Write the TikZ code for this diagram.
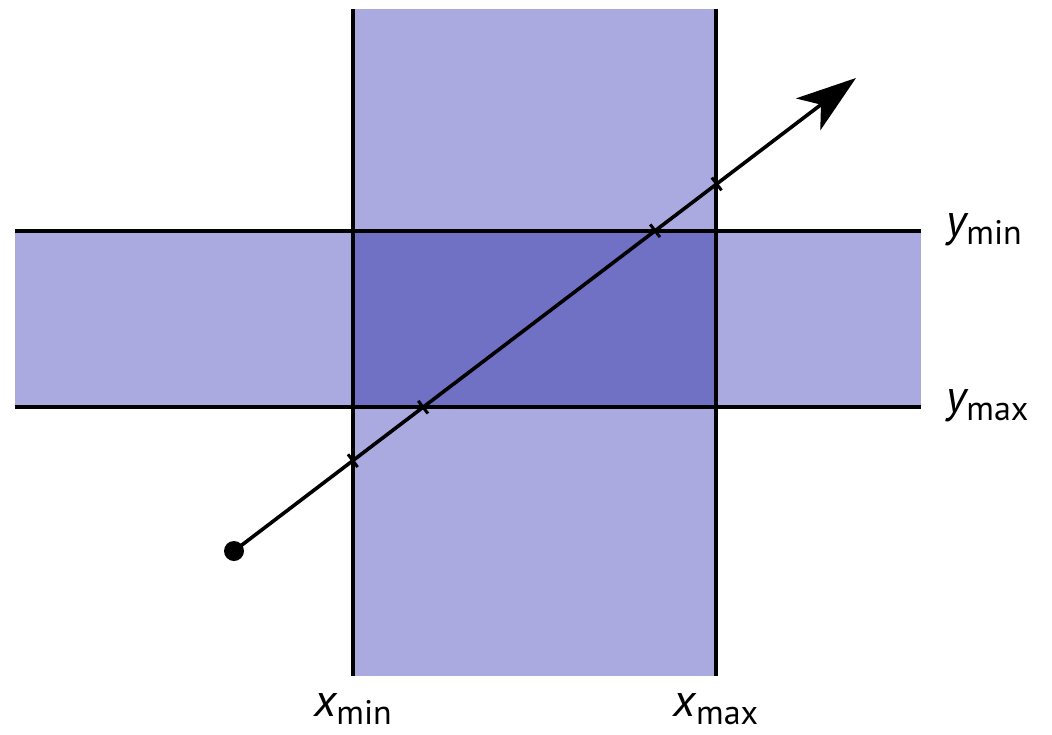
\documentclass[tikz,border=0pt]{standalone}
\usepackage{fontspec}
\setsansfont{PT Sans}
\usetikzlibrary{arrows.meta,calc}
\definecolor{bandlight}{RGB}{170,170,224}
\definecolor{banddark}{RGB}{112,112,196}
\newcommand{\bound}[2]{{\fontsize{46}{46}\selectfont\itshape #1}\raisebox{-8pt}{#2}}

\begin{document}
\begin{tikzpicture}[
  x=1pt,y=-1pt,
  edge/.style={line width=3.4pt},
  ray/.style={line width=3.6pt,-{Stealth[length=60pt,width=40pt,inset=16pt]}},
  tick/.style={line width=3pt},
  lbl/.style={font=\fontsize{34}{34}\selectfont\sffamily,inner sep=0pt}
]
\useasboundingbox (0,0) rectangle (1052,734);
% bands
\fill[bandlight] (353,9) rectangle (716,676);
\fill[bandlight] (15,231) rectangle (921,407);
\fill[banddark] (353,231) rectangle (716,407);
\draw[edge] (353,9) -- (353,676);
\draw[edge] (716,9) -- (716,676);
\draw[edge] (15,231) -- (921,231);
\draw[edge] (15,407) -- (921,407);
% labels
\node[lbl,anchor=base west] (ymin) at (946,236) {\bound{y}{min}};
\node[lbl,anchor=base west] (ymax) at (946,412) {\bound{y}{max}};
\node[lbl,anchor=base] (xmin) at (353,716) {\bound{x}{min}};
\node[lbl,anchor=base] (xmax) at (716,716) {\bound{x}{max}};
% ray
\coordinate (start) at (234,551);
\coordinate (tip) at (856,78);
\draw[ray] (start) -- (tip);
\fill (start) circle (10);
\path (start) -- (tip)
  coordinate[pos=0.191] (hit1)
  coordinate[pos=0.304] (hit2)
  coordinate[pos=0.677] (hit3)
  coordinate[pos=0.776] (hit4);
\foreach \h in {hit1,hit2,hit3,hit4}
  \draw[tick] ($(\h)!8pt!90:(tip)$) -- ($(\h)!8pt!-90:(tip)$);
\end{tikzpicture}
\end{document}
